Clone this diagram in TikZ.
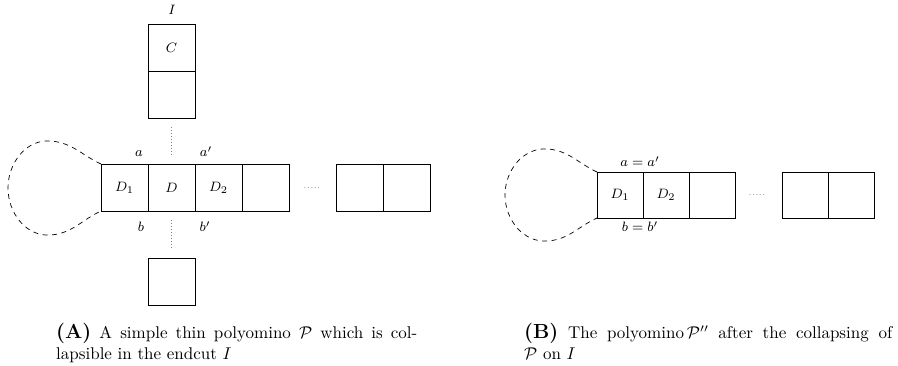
\documentclass[tikz,border=0pt]{standalone}
\usepackage{graphicx}
\newcommand{\skx}[1]{\scalebox{1.7}{#1}}
\begin{document}
\begin{tikzpicture}[x=1pt,y=-1pt,
  cell/.style={draw, line width=0.75pt, minimum width=47pt, minimum height=47pt, inner sep=0pt, outer sep=0pt},
  cellB/.style={cell, minimum width=46pt, minimum height=46pt},
  lbl/.style={inner sep=0pt, anchor=base},
  loopline/.style={draw, line width=0.7pt, dash pattern=on 5pt off 4.5pt},
  dotline/.style={draw, line width=0.7pt, dash pattern=on 0.7pt off 2.3pt, gray},
  dotstext/.style={inner sep=0pt, anchor=base, text=gray},
  capl/.style={inner sep=0pt, anchor=base west}]
\useasboundingbox (0,0) rectangle (898,366);

% ---------- (A) ----------
\node[cell] (c1) at (171.5,47.5) {\skx{\footnotesize $C$}};
\node[cell] (c2) at (171.5,94.5) {};
\node[cell] (d1) at (124.5,187.5) {\skx{\footnotesize $D_1$}};
\node[cell] (d)  at (171.5,187.5) {\skx{\footnotesize $D$}};
\node[cell] (d2) at (218.5,187.5) {\skx{\footnotesize $D_2$}};
\node[cell] (d3) at (265.5,187.5) {};
\node[cell] (e1) at (359.5,187.5) {};
\node[cell] (e2) at (406.5,187.5) {};
\node[cell] (bt) at (171.5,281.5) {};

\node[lbl] (lI) at (172,15) {\skx{\footnotesize $I$}};
\node[lbl] (la)  at (139,157) {\skx{\footnotesize $a$}};
\node[lbl] (la2) at (206,157) {\skx{\footnotesize $a'$}};
\node[lbl] (lb)  at (141,232) {\skx{\footnotesize $b$}};
\node[lbl] (lb2) at (205,232) {\skx{\footnotesize $b'$}};
\node[dotstext] (dotsA) at (312,189) {\skx{\tiny .....}};

\draw[dotline, shorten <=9pt, shorten >=9pt] (c2.south) -- (d.north);
\draw[dotline, shorten <=9pt, shorten >=9pt] (d.south) -- (bt.north);

\draw[loopline] (d1.north west) to[out=155,in=-5] ++(-50,-23)
  to[out=175,in=90] ++(-43,47)
  to[out=-90,in=185] ++(43,47)
  to[out=5,in=205] (d1.south west);

% ---------- (B) ----------
\node[cellB] (f1) at (620,195) {\skx{\footnotesize $D_1$}};
\node[cellB] (f2) at (666,195) {\skx{\footnotesize $D_2$}};
\node[cellB] (f3) at (712,195) {};
\node[cellB] (g1) at (805,195) {};
\node[cellB] (g2) at (851,195) {};

\node[lbl] (lab) at (640,167) {\skx{\footnotesize $a=a'$}};
\node[lbl] (lbb) at (640,232) {\skx{\footnotesize $b=b'$}};
\node[dotstext] (dotsB) at (757,196) {\skx{\tiny .....}};

\draw[loopline] (f1.north west) to[out=155,in=-5] ++(-49,-23)
  to[out=175,in=90] ++(-43,46)
  to[out=-90,in=185] ++(43,46)
  to[out=5,in=205] (f1.south west);

% ---------- captions ----------
\node[capl] (capA1) at (56,339) {\skx{\makebox[212.4pt][s]{{\large\bfseries (A)} A simple thin polyomino $\mathcal{P}$ which is col-}}};
\node[capl] (capA2) at (56,360) {\skx{lapsible in the endcut $I$}};

\node[capl] (capB1) at (524,339) {\skx{\makebox[216.5pt][s]{{\large\bfseries (B)} The polyomino\,$\mathcal{P}''$ after the collapsing of}}};
\node[capl] (capB2) at (524,360) {\skx{$\mathcal{P}$ on $I$}};
\end{tikzpicture}
\end{document}
